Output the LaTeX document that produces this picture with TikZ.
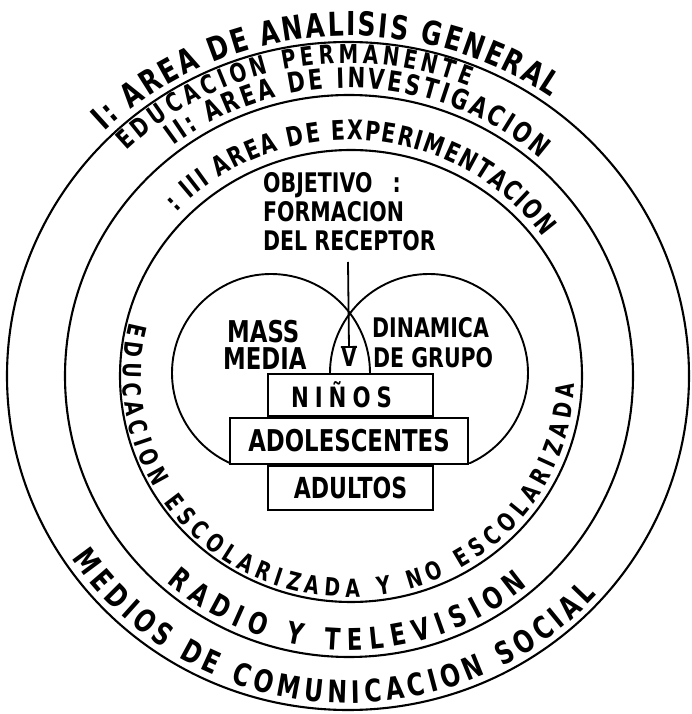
\documentclass[tikz,border=0pt]{standalone}
\usepackage{fontspec}
\setmainfont{DejaVu Sans}[FakeStretch=0.76]
\usetikzlibrary{decorations.text,arrows.meta}
\newcommand\hsz[1]{\fontsize{#1}{#1}\selectfont\bfseries}
\begin{document}
\begin{tikzpicture}[x=1pt,y=1pt,
  ring/.style={line width=2.1pt},
  lobe/.style={line width=1.9pt},
  rbox/.style={draw, line width=2.1pt, fill=white, inner sep=0pt},
  lbl/.style={inner sep=0pt, anchor=base west},
  curv/.style 2 args={decorate, decoration={text along path, text align={fit to path}, text={|\hsz{#1}|#2}}}
]
\useasboundingbox (-349,-338) rectangle (342,376);
\fill[white] (-349,-338) rectangle (342,376);

% rings
\draw[ring] (-1,0) ellipse [x radius=341, y radius=334];
\draw[ring] (0,0) ellipse [x radius=284, y radius=281];
\draw[ring] (2,0) ellipse [x radius=231, y radius=226];

% heart lobes
\begin{scope}
\clip (-200,-88) rectangle (200,200);
\draw[lobe] (-78,3) circle [radius=99];
\draw[lobe] (80,3) circle [radius=99];
\end{scope}

% boxes
\node[rbox, minimum width=165pt, minimum height=42pt, font=\hsz{28}] (ninos) at (1.5,-19) {N\kern6pt I\kern6pt Ñ\kern6pt O\kern6pt S\kern18pt};
\node[rbox, minimum width=238pt, minimum height=46pt, font=\hsz{30}] (adol) at (0,-65) {ADOLESCENTES};
\node[rbox, minimum width=165pt, minimum height=44pt, font=\hsz{29}] (adul) at (1.5,-112) {ADULTOS};

% centre texts
\node[lbl, font=\hsz{27}] (obj) at (-86,183) {OBJETIVO\hspace{20pt}:};
\node[lbl, font=\hsz{27}] (form) at (-86,154) {FORMACION};
\node[lbl, font=\hsz{27}] (del) at (-86,125) {DEL RECEPTOR};
\node[lbl, font=\hsz{30}] (mass) at (-122,33) {MASS};
\node[lbl, font=\hsz{30}] (media) at (-126,6) {MEDIA};
\node[lbl, font=\hsz{27}] (dinamica) at (23,38) {DINAMICA};
\node[lbl, font=\hsz{27}] (grupo) at (24,8) {DE GRUPO};
\node[inner sep=0pt, anchor=base, font=\hsz{26}] (v) at (0,9) {V};

% arrow
\coordinate (atop) at (-1,114);
\draw[line width=1.8pt, -{Bar[width=16pt,line width=1.8pt]}] (atop) -- (v.north);

% curved texts
\path[curv={33}{I: AREA DE ANALISIS GENERAL}] (134:352 and 340) arc[start angle=134, end angle=55, x radius=352, y radius=340];
\path[curv={26}{EDUCACION PERMANENTE}] (134:320 and 313) arc[start angle=134, end angle=68, x radius=320, y radius=313];
\path[curv={28}{II: AREA DE INVESTIGACION}] (127:291 and 288) arc[start angle=127, end angle=49, x radius=291, y radius=288];
\path[curv={27}{: III AREA DE EXPERIMENTACION}] (136:240 and 236) arc[start angle=136, end angle=36, x radius=240, y radius=236];
\path[curv={25}{EDUCACION ESCOLARIZADA Y NO ESCOLARIZADA}] (166:226 and 221) arc[start angle=166, end angle=358, x radius=226, y radius=221];
\path[curv={30}{RADIO Y TELEVISION}] (229:278 and 274) arc[start angle=229, end angle=310, x radius=278, y radius=274];
\path[curv={31}{MEDIOS DE COMUNICACION SOCIAL}] (214:334 and 327) arc[start angle=214, end angle=318, x radius=334, y radius=327];
\end{tikzpicture}
\end{document}
